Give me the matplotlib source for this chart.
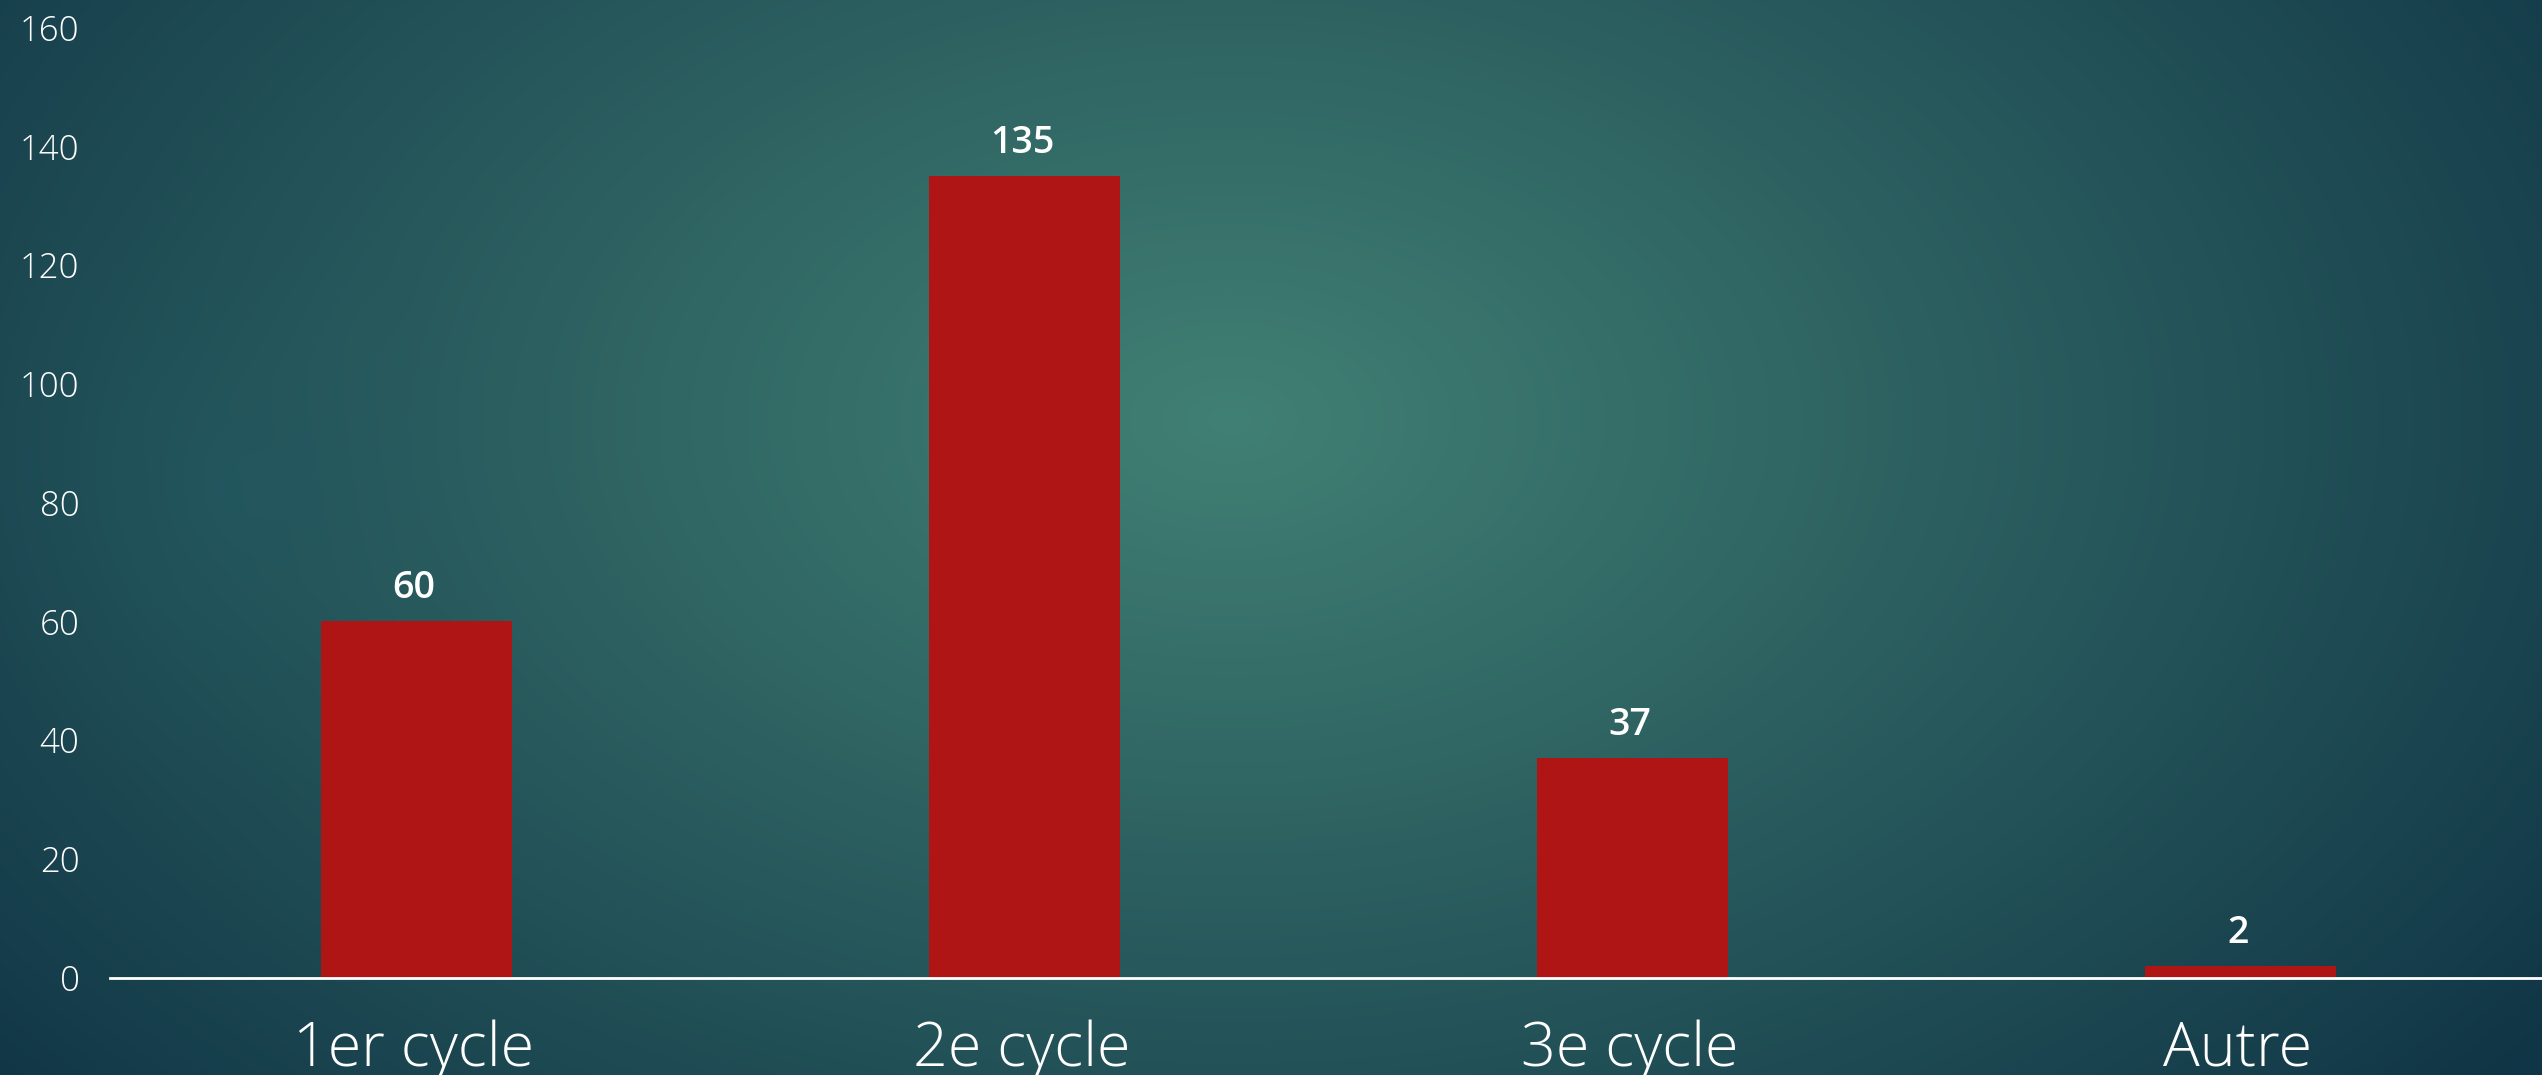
import numpy as np
import matplotlib
matplotlib.use("Agg")
import matplotlib.pyplot as plt

categories = ["1er cycle", "2e cycle", "3e cycle", "Autre"]
values = [60, 135, 37, 2]
yticks = [0, 20, 40, 60, 80, 100, 120, 140, 160]

W, H = 2542, 1075
fig = plt.figure(figsize=(W / 100, H / 100), dpi=100)

# background radial gradient
bg = fig.add_axes([0, 0, 1, 1])
bg.set_axis_off()
yy, xx = np.mgrid[0:H, 0:W]
cx, cy = 1230, 420
d = np.sqrt(((xx - cx) / 1650.0) ** 2 + ((yy - cy) / 1050.0) ** 2)
t = np.clip(1 - d, 0, 1) ** 1.0
dark = np.array([0x10, 0x35, 0x46]) / 255
light = np.array([0x41, 0x80, 0x74]) / 255
img = dark + (light - dark) * t[..., None]
# left glow
d2 = np.sqrt(((xx - 230) / 320.0) ** 2 + ((yy - 490) / 320.0) ** 2)
g = np.clip(1 - d2, 0, 1) ** 1.5 * 0.35
glow = np.array([0x22, 0x5e, 0x68]) / 255
img = img + (glow - img) * g[..., None]
bg.imshow(np.clip(img, 0, 1), extent=[0, 1, 0, 1], aspect="auto", origin="upper")
bg.set_xlim(0, 1)
bg.set_ylim(0, 1)

left = 110 / W
bottom = 1 - 977.6 / H
top = 1 - 27.6 / H
ax = fig.add_axes([left, bottom, 1 - left, top - bottom])
ax.patch.set_alpha(0)
x = np.arange(len(categories))
ax.bar(x + 0.004, values, width=0.315, color="#b01515", zorder=2)
ax.set_xlim(-0.5, 3.5)
ax.set_ylim(0, 160)
ax.set_yticks(yticks)
ax.set_yticklabels([str(v) for v in yticks], fontsize=25, color="white",
                   family="Open Sans", fontweight="light")
ax.set_xticks(x)
ax.set_xticklabels(categories, fontsize=44, color="white", family="Open Sans",
                   fontweight="light")
ax.tick_params(axis="both", length=0)
ax.tick_params(axis="y", pad=22)
ax.tick_params(axis="x", pad=30)
for s in ["top", "right", "left"]:
    ax.spines[s].set_visible(False)
ax.spines["bottom"].set_color("white")
ax.spines["bottom"].set_linewidth(2)
ax.spines["bottom"].set_zorder(3)
for xi, v in zip(x, values):
    ax.annotate(str(v), (xi, v), xytext=(0, 10), textcoords="offset points",
                ha="center", va="bottom", fontsize=27, color="white",
                family="Open Sans", fontweight="semibold")

fig.savefig("out.png", dpi=100)
